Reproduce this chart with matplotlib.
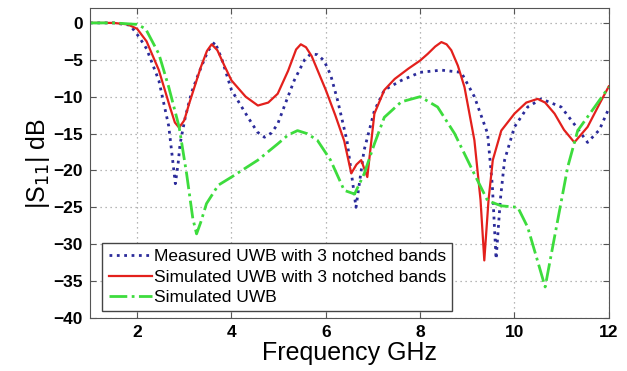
import matplotlib
matplotlib.use("Agg")
import matplotlib.pyplot as plt

plt.rcParams["font.family"] = ["Liberation Sans", "DejaVu Sans"]

# measured, notched design
meas_f = [1.0, 1.5, 1.85, 2.04, 2.2, 2.46, 2.67, 2.76, 2.81, 2.87, 2.91, 3.02, 3.15,
          3.3, 3.5, 3.65, 3.8, 4.0, 4.35, 4.55, 4.7, 4.85, 4.98, 5.15, 5.33, 5.55,
          5.68, 5.82, 5.96, 6.1, 6.25, 6.45, 6.64, 6.81, 7.03, 7.24, 7.6, 8.0, 8.45,
          8.87, 9.15, 9.43, 9.53, 9.61, 9.7, 9.79, 10.0, 10.28, 10.57, 10.99, 11.3,
          11.55, 11.8, 12.0]
meas_db = [0, 0, -0.3, -1.9, -3.5, -7.8, -14, -19, -21.8, -19, -16.4, -12.8, -9.5,
           -6.9, -3.8, -2.6, -5.0, -9.1, -12.8, -14.8, -15.5, -14.9, -13.7, -10.8, -7.8,
           -5.0, -4.2, -4.3, -5.1, -7.0, -10.5, -16, -25, -17.3, -11.9, -9.1, -7.8,
           -6.7, -6.4, -6.7, -10, -15, -22, -32, -24, -18.6, -14.1, -11.4, -10.3,
           -11.4, -14, -16.2, -14.5, -11.6]

# simulated, notched design
sim_f = [1.0, 1.5, 1.8, 2.0, 2.2, 2.46, 2.7, 2.8, 2.89, 3.0, 3.1, 3.35, 3.48, 3.58,
         3.7, 3.85, 4.0, 4.3, 4.56, 4.78, 4.98, 5.2, 5.37, 5.47, 5.58, 5.7, 6.0, 6.2,
         6.39, 6.54, 6.65, 6.75, 6.88, 7.03, 7.24, 7.46, 7.75, 8.0, 8.16, 8.32, 8.45,
         8.56, 8.66, 8.8, 8.94, 9.15, 9.28, 9.36, 9.45, 9.54, 9.72, 10.0, 10.25, 10.49,
         10.65, 10.85, 11.05, 11.27, 11.55, 11.8, 12.0]
sim_db = [0, 0, -0.2, -0.8, -2.5, -6.4, -11.5, -13.5, -14.2, -13.2, -11, -6, -3.8,
          -2.9, -3.7, -5.8, -7.8, -10, -11.2, -10.8, -9.6, -6.5, -3.6, -2.9, -3.3, -4.5,
          -9.1, -12.5, -16, -20.4, -19.2, -18.6, -20.9, -12.3, -9.1, -7.6, -6.2, -5.1,
          -4.2, -3.2, -2.6, -2.9, -3.7, -5.8, -8.7, -15.9, -24, -32.2, -24, -18.6,
          -14.6, -12.3, -10.8, -10.3, -10.8, -12.3, -14.5, -16.2, -14.1, -11.0, -8.6]

# simulated plain UWB
uwb_f = [1.0, 1.5, 2.0, 2.18, 2.46, 2.67, 2.89, 3.05, 3.18, 3.26, 3.35, 3.47, 3.72,
         4.0, 4.56, 4.98, 5.2, 5.4, 5.6, 5.82, 6.1, 6.39, 6.61, 6.81, 7.03, 7.24, 7.6,
         8.0, 8.37, 8.73, 9.15, 9.43, 9.72, 10.07, 10.28, 10.5, 10.65, 10.85, 11.13,
         11.34, 11.7, 12.0]
uwb_db = [0, 0, -0.2, -0.8, -4.2, -8.7, -14.1, -20.5, -26.5, -28.6, -27, -24.5, -22,
          -20.9, -18.6, -16.4, -15.2, -14.6, -15.0, -15.9, -18.6, -22.7, -23.2, -20.5,
          -16.4, -12.8, -10.7, -10, -11.4, -15, -20.5, -24.1, -24.8, -25, -27.7, -32.5,
          -35.8, -29, -19.5, -14.6, -11.4, -8.7]

labels = ["Measured UWB with 3 notched bands",
          "Simulated UWB with 3 notched bands",
          "Simulated UWB"]
xticks = [2, 4, 6, 8, 10, 12]
yticks = [0, -5, -10, -15, -20, -25, -30, -35, -40]

fig = plt.figure(figsize=(6.27, 3.71), dpi=100)
ax = fig.add_axes([0.1435, 0.143, 0.8275, 0.835])

ax.plot(meas_f, meas_db, ":", color="#2b2b9a", linewidth=2.0, label=labels[0])
ax.plot(sim_f, sim_db, "-", color="#e3201c", linewidth=1.6, label=labels[1])
ax.plot(uwb_f, uwb_db, "-.", color="#3ddc3d", linewidth=2.0, label=labels[2])

ax.set_xlim(1, 12)
ax.set_ylim(-40, 2)
ax.set_xticks(xticks)
ax.set_yticks(yticks)
ax.tick_params(direction="in", top=True, right=True, labelsize=12.5, length=4,
               color="#555555", pad=5)
for lbl in ax.get_xticklabels() + ax.get_yticklabels():
    lbl.set_fontweight("bold")
ax.grid(True, linestyle=(0, (1, 3)), color="#a0a0a0", linewidth=0.9)
for sp in ax.spines.values():
    sp.set_color("#555555")

ax.set_xlabel("Frequency GHz", fontsize=18, labelpad=1)
ax.set_ylabel(r"|S$_{11}$| dB", fontsize=18, labelpad=1)

leg = ax.legend(loc="lower left", bbox_to_anchor=(0.024, 0.022), fontsize=12.5,
                fancybox=False, framealpha=1, edgecolor="#444444",
                handlelength=2.5, handletextpad=0.1, borderpad=0.35,
                labelspacing=0.3, borderaxespad=0)
leg.get_frame().set_linewidth(1.0)

fig.savefig("out.png", dpi=100)
